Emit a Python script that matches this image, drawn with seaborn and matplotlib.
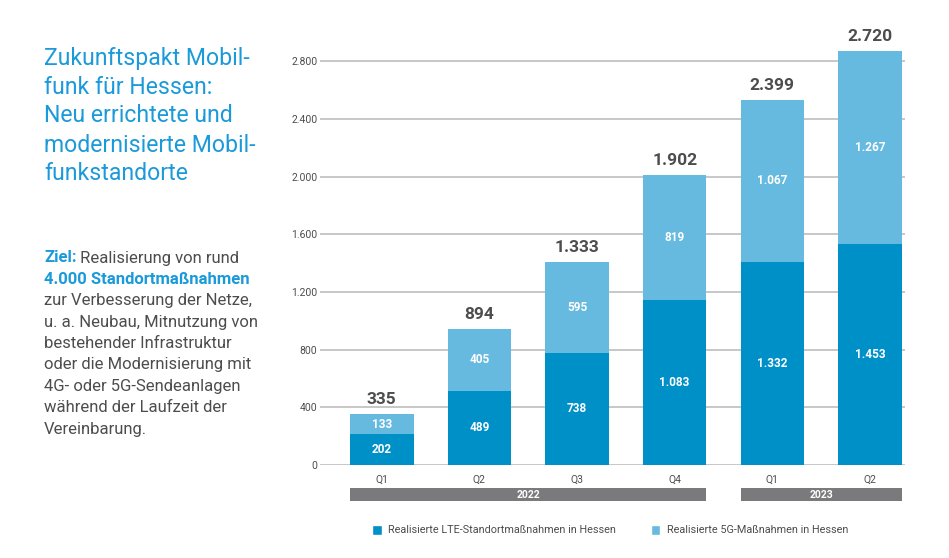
import numpy as np
import pandas as pd
import matplotlib
matplotlib.use("Agg")
import matplotlib.pyplot as plt
import matplotlib.transforms as mtransforms
from matplotlib.patches import Rectangle, Patch
import seaborn as sns

# data
periods = ["2022 Q1", "2022 Q2", "2022 Q3", "2022 Q4", "2023 Q1", "2023 Q2"]
quarter_labels = ["Q1", "Q2", "Q3", "Q4", "Q1", "Q2"]
lte = [202, 489, 738, 1083, 1332, 1453]
g5 = [133, 405, 595, 819, 1067, 1267]
totals = [335, 894, 1333, 1902, 2399, 2720]
y_ticks = [0, 400, 800, 1200, 1600, 2000, 2400, 2800]
years = ["2022", "2023"]

# in the original the gridlines sit ~5.6 % lower than the bars imply
AXIS_SCALE = 1.056

DARK = "#0090C8"
LIGHT = "#66BAE0"
TITLE_BLUE = "#1B9ADA"
TEXT = "#4D4D4F"
GREY_BAR = "#7A7A7C"

df = pd.DataFrame({"period": periods, "lte": lte, "g5": g5})
df["total"] = df["lte"] + df["g5"]

def de(n):
    return f"{n:,}".replace(",", ".")

sns.set_theme(style="white")
plt.rcParams["font.family"] = ["Roboto", "DejaVu Sans"]

fig = plt.figure(figsize=(9.49, 5.58), dpi=100)
W, H = 949, 558
ax = fig.add_axes([320 / W, (H - 465) / H, (905 - 320) / W, (465 - 30) / H])

sns.barplot(data=df, x="period", y="total", color=LIGHT, width=0.65,
            saturation=1, linewidth=0, ax=ax, zorder=3)
sns.barplot(data=df, x="period", y="lte", color=DARK, width=0.65,
            saturation=1, linewidth=0, ax=ax, zorder=3)

ax.set_xlim(-0.633, 5.36)
ax.set_ylim(0, 2856)
ax.set_yticks([v / AXIS_SCALE for v in y_ticks])
ax.set_yticklabels([de(v) for v in y_ticks], fontsize=7.5, color=TEXT)
ax.set_xticks(range(len(periods)))
ax.set_xticklabels(quarter_labels, fontsize=7.5, color=TEXT)
ax.tick_params(axis="y", length=0, pad=2)
ax.tick_params(axis="x", length=0, pad=7)
ax.set_xlabel("")
ax.set_ylabel("")
ax.grid(axis="y", color="#BDBDBD", linewidth=1.2, zorder=0)
for s in ax.spines.values():
    s.set_visible(False)

for i, (a, b, t) in enumerate(zip(lte, g5, totals)):
    ax.text(i, a / 2, de(a), ha="center", va="center", color="white",
            fontsize=8.5, fontweight="bold", zorder=5)
    ax.text(i, a + b / 2, de(b), ha="center", va="center", color="white",
            fontsize=8.5, fontweight="bold", zorder=5)
    ax.annotate(de(t), (i, a + b), xytext=(0, 5), textcoords="offset points",
                ha="center", va="bottom", color=TEXT, fontsize=12.5,
                fontweight="bold")

# year bands under the quarter labels
trans = mtransforms.blended_transform_factory(ax.transData, ax.transAxes)
band_y = -36 / 435
band_h = 13 / 435
for year, (x0, x1) in zip(years, [(-0.325, 3.325), (3.675, 5.325)]):
    ax.add_patch(Rectangle((x0, band_y), x1 - x0, band_h, transform=trans,
                           color=GREY_BAR, clip_on=False, lw=0))
    ax.text((x0 + x1) / 2, band_y + band_h / 2, year, transform=trans,
            ha="center", va="center", color="white", fontsize=7.5,
            fontweight="bold")

handles = [Patch(facecolor=DARK, label="Realisierte LTE-Standortmaßnahmen in Hessen"),
           Patch(facecolor=LIGHT, label="Realisierte 5G-Maßnahmen in Hessen")]
leg = fig.legend(handles=handles, loc="center", bbox_to_anchor=(610 / W, (H - 530) / H),
                 ncol=2, frameon=False, fontsize=7.8, handlelength=0.9,
                 handleheight=1.1, handletextpad=0.6, columnspacing=3.2)
for t in leg.get_texts():
    t.set_color(TEXT)

# title block on the left
title_lines = ["Zukunftspakt Mobil-", "funk für Hessen:", "Neu errichtete und",
               "modernisierte Mobil-", "funkstandorte"]
for k, line in enumerate(title_lines):
    fig.text(44 / W, 1 - (58 + k * 29) / H, line, color=TITLE_BLUE,
             fontsize=16.6, va="center", ha="left")

body = ["zur Verbesserung der Netze,", "u. a. Neubau, Mitnutzung von",
        "bestehender Infrastruktur", "oder die Modernisierung mit",
        "4G- oder 5G-Sendeanlagen", "während der Laufzeit der",
        "Vereinbarung."]
y0 = 258
step = 21.4
t1 = fig.text(44 / W, 1 - y0 / H, "Ziel:", color=TITLE_BLUE, fontsize=12,
              fontweight="bold", va="center", ha="left")
ax.annotate(" Realisierung von rund", xy=(1, 0.5), xycoords=t1, va="center",
            ha="left", color=TEXT, fontsize=12, annotation_clip=False)
fig.text(44 / W, 1 - (y0 + step) / H, "4.000 Standortmaßnahmen", color=TITLE_BLUE,
         fontsize=12, fontweight="bold", va="center", ha="left")
for k, line in enumerate(body):
    fig.text(44 / W, 1 - (y0 + (k + 2) * step) / H, line, color=TEXT,
             fontsize=12, va="center", ha="left")

fig.savefig("out.png", dpi=100, facecolor="white")
